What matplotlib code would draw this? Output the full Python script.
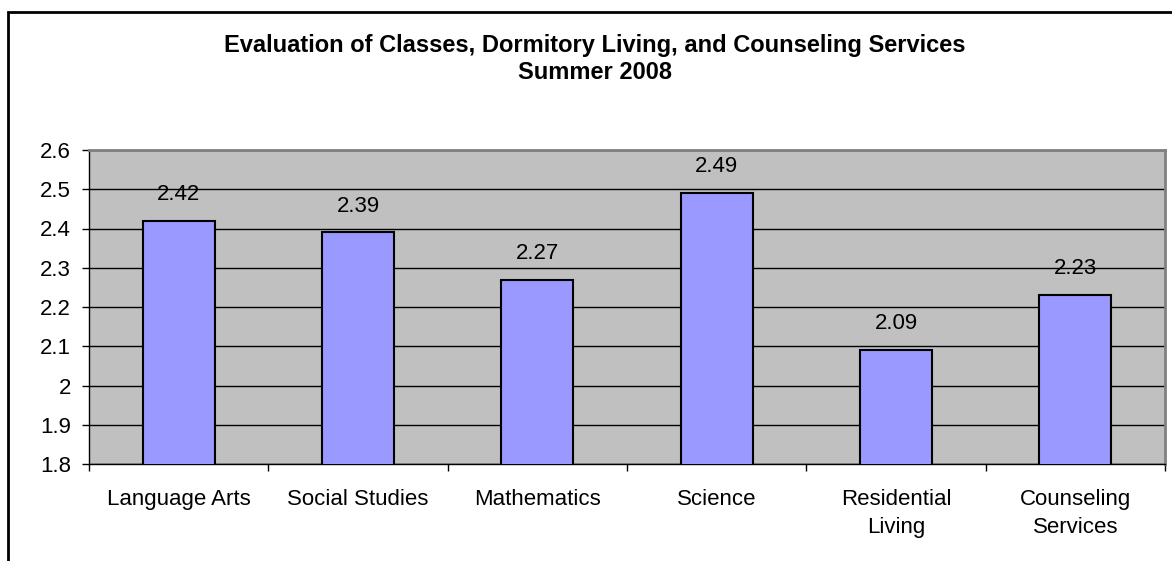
import matplotlib
matplotlib.use("Agg")
import matplotlib.pyplot as plt
from matplotlib.patches import Rectangle
import numpy as np

categories = ["Language Arts", "Social Studies", "Mathematics", "Science",
              "Residential\nLiving", "Counseling\nServices"]
values = [2.42, 2.39, 2.27, 2.49, 2.09, 2.23]
yticks = [1.8, 1.9, 2.0, 2.1, 2.2, 2.3, 2.4, 2.5, 2.6]
ytick_labels = ["1.8", "1.9", "2", "2.1", "2.2", "2.3", "2.4", "2.5", "2.6"]
title = "Evaluation of Classes, Dormitory Living, and Counseling Services\nSummer 2008"

plt.rcParams['font.family'] = ['Liberation Sans', 'DejaVu Sans']

W, H = 1172, 561
fig = plt.figure(figsize=(W / 100, H / 100), dpi=100)
fig.patch.set_facecolor("white")

# chart outer border (extends beyond the image on right/bottom)
fig.patches.append(Rectangle((8 / W, -0.1), 1.2, 1 - 12 / H + 0.1,
                             transform=fig.transFigure, fill=False,
                             edgecolor="black", linewidth=2, zorder=0))

ax = fig.add_axes([89 / W, 1 - 464 / H, (1165 - 89) / W, (464 - 150) / H])
ax.set_facecolor("#C0C0C0")

x = np.arange(len(categories))
ax.bar(x, values, width=0.4, color="#9999FF", edgecolor="black",
       linewidth=1.5, zorder=3)
for xi, v in zip(x, values):
    ax.annotate(f"{v:.2f}", (xi, v), xytext=(0, 19), textcoords="offset points",
                ha="center", va="center", fontsize=16, zorder=4)

ax.set_xlim(-0.5, len(categories) - 0.5)
ax.set_ylim(1.8, 2.6)
ax.set_yticks(yticks)
ax.set_yticklabels(ytick_labels, fontsize=16)
ax.yaxis.grid(True, color="black", linewidth=1.0, zorder=1)
ax.set_axisbelow(True)

ax.set_xticks(x)
ax.set_xticklabels(categories, fontsize=16, linespacing=1.45)
ax.set_xticks(np.arange(-0.5, len(categories)), minor=True)
ax.tick_params(axis="x", which="major", length=0, pad=18)
ax.tick_params(axis="x", which="minor", length=5, width=1, direction="out")
ax.tick_params(axis="y", length=5, width=1, direction="out", pad=8)

for side in ("left", "bottom"):
    ax.spines[side].set_color("black")
    ax.spines[side].set_linewidth(1)
for side in ("top", "right"):
    ax.spines[side].set_color("#808080")
    ax.spines[side].set_linewidth(2)

fig.text(595 / W, 1 - 59 / H, title, ha="center", va="center",
         fontsize=17, fontweight="bold", linespacing=1.25)

fig.savefig("out.png", dpi=100)
